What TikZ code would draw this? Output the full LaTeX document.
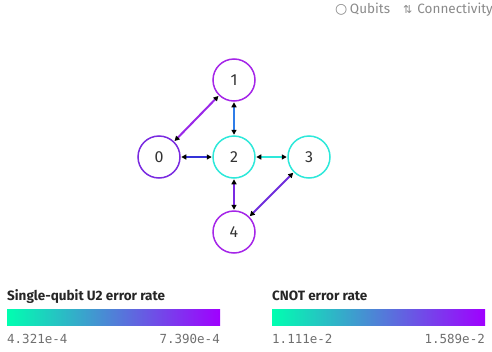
\documentclass[tikz,border=0pt]{standalone}
\usepackage{fontspec}
\setmainfont{Fira Sans}
\newfontfamily\monofnt{DejaVu Sans Mono}
\newfontfamily\symfnt{DejaVu Sans}
\usetikzlibrary{arrows.meta}
\definecolor{cA}{HTML}{00FFB0}
\definecolor{cB}{HTML}{A000FF}
\definecolor{qpurple}{HTML}{A526E8}
\definecolor{qviolet}{HTML}{7A2BE0}
\definecolor{qcyan}{HTML}{2EE8DA}
\definecolor{eblue}{HTML}{2F7DE8}
\definecolor{edark}{HTML}{3433D8}
\definecolor{epurple}{HTML}{9A28E8}
\definecolor{eviolet}{HTML}{7A2AE2}
\definecolor{eviolet2}{HTML}{6F2DDC}
\definecolor{txtgray}{HTML}{6F6F6F}
\definecolor{legendgray}{HTML}{8A8A8A}
\tikzset{
  qubit/.style={circle, draw=#1, line width=1.5pt, minimum size=42pt, inner sep=0pt, font=\fontsize{16}{16}\selectfont, text=black!80},
  link/.style={draw=#1, line width=2pt, {Triangle[length=5pt,width=5pt,color=black]}-{Triangle[length=5pt,width=5pt,color=black]}, shorten <=0.5pt, shorten >=0.5pt},
  bartitle/.style={anchor=base west, inner sep=0pt, font=\bfseries\fontsize{13.5}{14}\selectfont, text=black!85},
  barlabel/.style={inner sep=0pt, font=\monofnt\fontsize{12.5}{13}\selectfont, text=txtgray},
  legend/.style={anchor=base west, inner sep=0pt, font=\fontsize{13.5}{13.5}\selectfont, text=legendgray}
}
\begin{document}
\begin{tikzpicture}[x=1pt,y=-1pt]
\useasboundingbox (0,0) rectangle (492,351);
% qubits
\node[qubit=qpurple] (q1) at (234,80) {1};
\node[qubit=qviolet] (q0) at (159,157) {0};
\node[qubit=qcyan] (q2) at (234,157) {2};
\node[qubit=qcyan] (q3) at (309,157) {3};
\node[qubit=qpurple] (q4) at (234,232) {4};
% links
\draw[link=epurple] (q0) -- (q1);
\draw[link=eblue] (q1) -- (q2);
\draw[link=edark] (q0) -- (q2);
\draw[link=qcyan] (q2) -- (q3);
\draw[link=eviolet] (q2) -- (q4);
\draw[link=eviolet2] (q3) -- (q4);
% legend
\node[legend] (lg1) at (335,13) {{\symfnt\fontsize{14}{14}\selectfont ○}\hspace{2.5pt}Qubits};
\node[legend] (lg2) at (403,13) {{\symfnt\fontsize{11}{11}\selectfont ⇅}\hspace{5pt}Connectivity};
% colour bars
\node[bartitle] (t1) at (7,300) {Single-qubit U2 error rate};
\node[bartitle] (t2) at (272,300) {CNOT error rate};
\node[draw=none, minimum width=213pt, minimum height=16pt, inner sep=0pt, left color=cA, right color=cB] (b1) at (113.5,317) {};
\node[draw=none, minimum width=213pt, minimum height=16pt, inner sep=0pt, left color=cA, right color=cB] (b2) at (378.5,317) {};
\node[barlabel, anchor=base west] (l1) at (7,343) {4.321e-4};
\node[barlabel, anchor=base east] (l2) at (220,343) {7.390e-4};
\node[barlabel, anchor=base west] (l3) at (272,343) {1.111e-2};
\node[barlabel, anchor=base east] (l4) at (485,343) {1.589e-2};
\end{tikzpicture}
\end{document}
